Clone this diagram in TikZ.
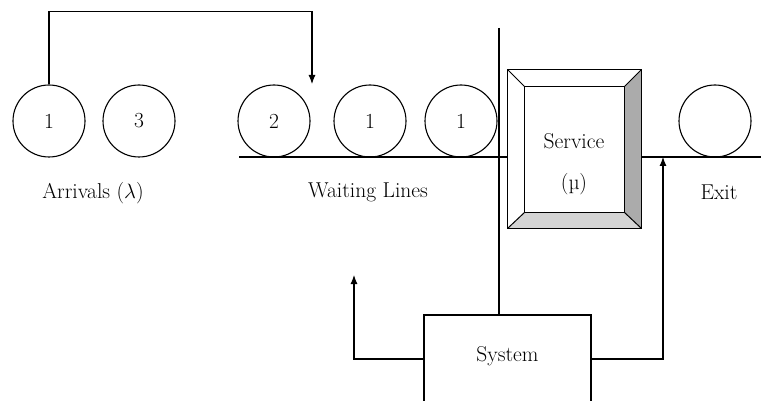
\documentclass[tikz,border=0pt]{standalone}
\usepackage{fontspec}
\usepackage{tikz}
\usetikzlibrary{arrows.meta, positioning, calc}

\begin{document}
\begin{tikzpicture}[
        x=1pt, y=-1pt,
        % Customers (circles)
        cust/.style={
            circle,
            draw,
            line width=1.1pt,
            minimum size=72pt,
            inner sep=0pt,
            font=\fontsize{21.5}{25}\selectfont
        },
        lbl/.style={font=\fontsize{21.5}{25}\selectfont, inner sep=0pt},
        sysbox/.style={rectangle, draw, line width=1.1pt, minimum width=167pt, minimum height=88pt,
            text depth=10pt, font=\fontsize{21.5}{25}\selectfont},
        % Lines
        wire/.style={line width=1.1pt},
        flow/.style={-{Latex[length=9pt,width=7pt]}, line width=1.1pt}
    ]
    \useasboundingbox (0,0) rectangle (761,401);

    % --- CUSTOMERS ---
    \node[cust] (a1)   at (49,121)  {1};
    \node[cust] (a3)   at (139,121) {3};
    \node[cust] (q2)   at (274,121) {2};
    \node[cust] (q1)   at (370,121) {1};
    \node[cust] (q1b)  at (461,121) {1};
    \node[cust] (done) at (715,121) {};

    % --- SERVICE STATION (bevelled box) ---
    \path (574.5,149) node[minimum width=133pt, minimum height=158pt, inner sep=0pt] (srv) {};
    \coordinate (in-nw) at ($(srv.north west)+(17,17)$);
    \coordinate (in-ne) at ($(srv.north east)+(-17,17)$);
    \coordinate (in-se) at ($(srv.south east)+(-17,-16)$);
    \coordinate (in-sw) at ($(srv.south west)+(17,-16)$);
    \fill[black!33] (srv.north east) -- (srv.south east) -- (in-se) -- (in-ne) -- cycle;
    \fill[black!17] (srv.south west) -- (srv.south east) -- (in-se) -- (in-sw) -- cycle;
    \draw[line width=1pt] (in-nw) rectangle (in-se);
    \draw[line width=1pt] (srv.north west) -- (in-nw) (srv.north east) -- (in-ne)
        (srv.south east) -- (in-se) (srv.south west) -- (in-sw);
    \draw[wire] (srv.north west) rectangle (srv.south east);
    \node[lbl] (srvname) at (574,141) {Service};
    \node[lbl] (srvrate) at (574,184) {(µ)};

    % --- SYSTEM ---
    \node[sysbox] (sys) at (507.5,359) {System};

    % --- QUEUE LINES ---
    \coordinate (qstart) at (239,157);
    \coordinate (qend)   at (761,157);
    \draw[wire] (qstart) -- (qstart -| srv.west);
    \draw[wire] (srv.east |- qend) -- (qend);

    % system boundary
    \coordinate (divtop) at (499,28);
    \draw[wire] (divtop) -- (divtop |- sys.north);

    % --- FLOWS ---
    % arrival joins the queue
    \coordinate (drop) at (312,84);
    \draw[flow] (a1.north) -- ++(0,-73) -| (drop);

    % system outputs
    \coordinate (back)  at (354,275);
    \coordinate (merge) at (663,157);
    \draw[flow] (sys.west) -| (back);
    \draw[flow] (sys.east) -| (merge);

    % --- LABELS ---
    \node[lbl, anchor=base] (arr)  at (93,199)  {Arrivals ($\lambda$)};
    \node[lbl, anchor=base] (wait) at (368,198) {Waiting Lines};
    \node[lbl, anchor=base] (exit) at (719,200) {Exit};

\end{tikzpicture}
\end{document}
